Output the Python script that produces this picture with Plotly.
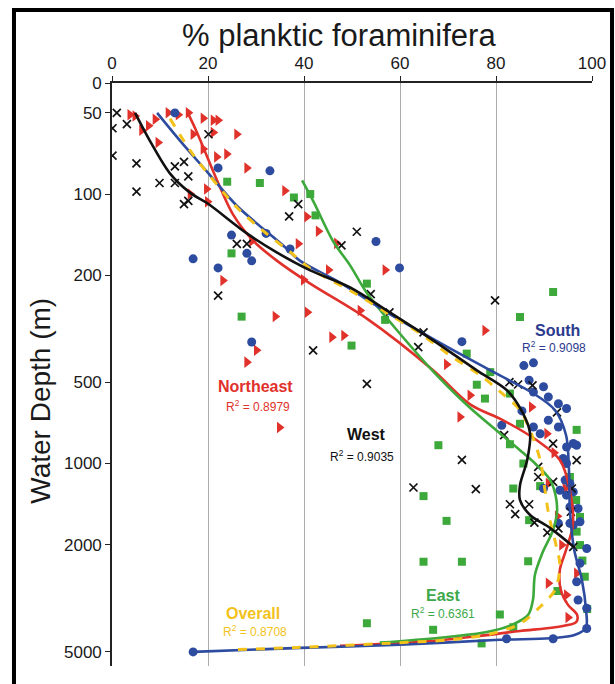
import math
import plotly.graph_objects as go

# ---------------- observations: % planktic foraminifera vs water depth (m) ----------------
ne_pct = [3.75, 4.8, 6.2, 7.6, 9.0, 9.6, 11.7, 13.8, 15.9, 19.0, 21.1, 22.1, 16.9, 21.1, 26.0,
          19.0, 21.8, 23.9, 28.1, 16.3, 19.7, 19.9, 36.0, 40.6, 38.8, 29.1, 23.1, 34.0, 40.7, 30.1,
          28.1, 34.9, 43.0, 46.8, 56.9, 45.1, 39.9, 51.7, 45.8, 48.3, 77.7, 69.7, 74.6, 72.5, 90.6,
          92.1, 90.9, 92.8, 94.4, 93.7, 96.8, 90.9, 94.7, 95.0, 87.4]
ne_depth = [50.8, 51.3, 58, 55.8, 52.8, 64.4, 49.9, 50.8, 49.9, 52.3, 53.2, 53.2, 60, 59.1, 60,
            68.1, 72.8, 71.1, 80.1, 100, 95.8, 106.8, 97.2, 121.4, 153, 149.8, 209.5, 284.7, 274.5, 380,
            420.5, 735.6, 137.5, 152.4, 191.2, 191.2, 208.2, 270.4, 339.6, 334.9, 320.9, 428.6, 558.5, 672, 774.5,
            912, 1186, 1570, 1238, 2007, 2553, 2780, 3076, 3724, 616.6]

west_pct = [1.0, 3.1, 0.1, 0.1, 5.1, 9.9, 13.1, 5.1, 13.1, 15.0, 15.9, 15.0, 15.9, 20.1, 38.8,
            36.9, 26.0, 28.1, 22.1, 51.0, 47.8, 53.9, 57.8, 79.8, 64.9, 63.8, 41.9, 53.1, 82.8, 84.6,
            87.6, 81.7, 92.7, 91.9, 72.9, 62.8, 75.8, 82.9, 84.0, 86.9, 88.8, 88.8, 91.9, 88.0, 90.7,
            93.0, 95.6, 96.8, 95.8, 96.1]
west_depth = [50, 55, 57, 72, 77, 91, 91, 98, 79, 76, 86, 109, 106, 60, 109,
              121, 153, 153, 238, 138, 155, 235, 275, 248, 326, 370, 380, 506, 499, 509,
              513, 785, 646, 843, 970, 1227, 1244, 1416, 1541, 1416, 1029, 1122, 1169, 1656, 1803,
              1741, 1510, 972, 1238, 2037]

south_pct = [13.1, 22.1, 32.9, 24.9, 32.1, 28.1, 29.1, 16.9, 22.1, 37.1, 29.1, 55.0, 59.9, 72.9, 85.8,
             87.8, 86.9, 87.8, 89.9, 90.9, 93.0, 94.7, 85.4, 87.8, 89.2, 90.9, 94.7, 96.8, 93.0, 81.2,
             96.1, 94.0, 94.7, 94.4, 95.4, 93.3, 94.7, 96.1, 95.4, 97.1, 97.5, 96.1, 89.9, 93.0, 95.4,
             98.9, 97.5, 96.8, 97.1, 98.9, 98.9, 91.9, 82.2, 16.9]
south_depth = [50, 80, 82, 142, 140, 166, 177, 174, 188, 160, 354, 150, 188, 353, 433,
               423, 491, 543, 519, 566, 600, 625, 638, 732, 775, 691, 868, 855, 732, 721,
               843, 958, 1000, 1152, 1186, 1256, 1310, 1274, 1449, 1468, 1646, 1692, 1238, 1667, 1667,
               2066, 2344, 2745, 3209, 3444, 4093, 4467, 4467, 5000]

east_pct = [24.0, 30.8, 37.9, 41.3, 42.4, 24.9, 27.0, 53.1, 56.9, 49.9, 73.9, 78.8, 76.0, 77.7, 82.9,
            85.0, 91.9, 96.8, 82.9, 68.0, 85.0, 64.9, 69.7, 64.9, 72.9, 86.7, 53.1, 66.9, 77.0, 80.8,
            85.7, 83.6, 86.9, 89.2, 92.8, 96.7, 96.8, 98.0, 98.5, 99.0, 95.4, 97.5, 97.5, 83.6]
east_depth = [90, 91, 103, 100, 120, 166, 285, 215, 293, 365, 391, 458, 510, 574, 550,
              286, 231, 750, 848, 855, 712, 1321, 1632, 2314, 2314, 2305, 3914, 4140, 4650, 3632,
              1000, 1238, 1622, 1213, 2972, 1366, 1789, 2291, 2630, 3467, 1122, 1578, 2007, 4050]

# ---------------- fitted trend curves ----------------
ne_fit_pct = [15.8, 17.5, 19.0, 21.9, 25.2, 29.4, 34.4, 41.3, 53.1, 66.9, 74.6, 81.5, 88.5, 93.3,
              95.4, 96.0, 94.6, 93.3, 93.5, 95.0, 96.9, 96.7, 92.3, 85.0, 76.7, 64.2, 47.5]
ne_fit_depth = [50, 58, 67, 89, 119, 149, 177, 215, 290, 451, 603, 691, 820, 971,
                1254, 1692, 2093, 2482, 2943, 3345, 3643, 3880, 4050, 4180, 4360, 4590, 4750]

east_fit_pct = [39.6, 41.9, 46.0, 49.6, 53.1, 60.0, 66.9, 74.0, 80.8, 85.0, 88.5, 91.3, 92.5, 92.7,
                91.9, 89.6, 88.1, 87.7, 86.7, 83.3, 78.1, 68.3, 55.8]
east_fit_depth = [89, 106, 149, 184, 233, 330, 455, 608, 772, 892, 1013, 1152, 1337, 1525,
                  1764, 2160, 2590, 3205, 3643, 3967, 4220, 4430, 4620]

south_fit_pct = [9.4, 14.2, 20.0, 26.0, 35.6, 39.2, 47.5, 57.9, 69.0, 80.8, 87.7, 92.3, 94.6, 95.2,
                 95.4, 96.3, 97.9, 98.75, 98.75, 96.5, 91.3, 80.8, 60.0, 39.2, 16.9]
south_fit_depth = [50, 63.5, 83.4, 110.5, 155, 177, 213, 279, 362, 471, 548, 634, 785, 1057,
                   1488, 2093, 2703, 3490, 4060, 4320, 4450, 4508, 4705, 4830, 5000]

overall_fit_pct = [12.1, 16.3, 20.0, 26.0, 31.5, 37.1, 41.3, 49.6, 57.3, 64.2, 70.4, 76.7, 80.8, 85.0,
                   87.5, 89.2, 90.2, 91.0, 92.5, 93.3, 92.3, 89.2, 85.0, 78.8, 70.4, 60.0, 39.2, 24.6]
overall_fit_depth = [52.5, 69, 84, 112, 137, 164, 189, 228, 276, 329, 397, 470, 540, 634,
                     785, 971, 1254, 1552, 2005, 2378, 2943, 3400, 3930, 4290, 4508, 4620, 4810, 4910]

west_fit_pct = [4.8, 7.9, 12.1, 16.3, 19.8, 28.1, 34.4, 41.3, 49.6, 57.9, 66.9, 76.0, 82.3, 85.6,
                87.1, 86.5, 85.0, 85.0, 87.1, 91.3, 96.5]
west_fit_depth = [50, 63.5, 84, 99, 108, 140, 165, 192, 222, 275, 349, 451, 535, 650,
                  772, 971, 1202, 1366, 1552, 1736, 2059]

# ---------------- axes ----------------
x_ticks = [0, 20, 40, 60, 80, 100]
depth_top, depth_bottom = 38.9, 5640
y_tick_vals = [38.9, 50, 100, 200, 500, 1000, 2000, 5000]
y_tick_text = ["0", "50", "100", "200", "500", "1000", "2000", "5000"]

# ---------------- region labels: name, R², colour, label position ----------------
regions = ["Northeast", "West", "South", "East", "Overall"]
r2_values = ["0.8979", "0.9035", "0.9098", "0.6361", "0.8708"]

RED = "#E1312B"
BLUE = "#2D4B9F"
NAVY = "#2C3A8E"
GREEN = "#3CA93A"
YELLOW = "#F2C21A"
BLACK = "#111111"
FONT = "Liberation Sans, Arial, sans-serif"

label_colors = [RED, BLACK, NAVY, "#3DA84A", YELLOW]
r2_colors = [RED, BLACK, NAVY, "#3DA84A", YELLOW]
label_pos = [(29.8, 517), (53.1, 779), (92.9, 321), (69.0, 3077), (29.4, 3610)]
r2_pos = [(30.4, 614), (52.0, 940), (92.0, 371), (69.0, 3590), (29.8, 4170)]

fig = go.Figure()

# sample points
fig.add_trace(go.Scatter(x=east_pct, y=east_depth, mode="markers",
                         marker=dict(symbol="square", size=8, color=GREEN)))
fig.add_trace(go.Scatter(x=ne_pct, y=ne_depth, mode="markers",
                         marker=dict(symbol="triangle-right", size=10, color=RED)))
fig.add_trace(go.Scatter(x=south_pct, y=south_depth, mode="markers",
                         marker=dict(symbol="circle", size=9, color=BLUE)))
fig.add_trace(go.Scatter(x=west_pct, y=west_depth, mode="markers",
                         marker=dict(symbol="x-thin", size=8, color=BLACK,
                                     line=dict(width=1.7, color=BLACK))))

# trend curves
def curve(x, y, color, dash="solid", width=2.6):
    return go.Scatter(x=x, y=y, mode="lines",
                      line=dict(color=color, width=width, dash=dash, shape="spline", smoothing=0.9))

fig.add_trace(curve(ne_fit_pct, ne_fit_depth, RED))
fig.add_trace(curve(east_fit_pct, east_fit_depth, GREEN))
fig.add_trace(curve(south_fit_pct, south_fit_depth, BLUE))
fig.add_trace(curve(overall_fit_pct, overall_fit_depth, YELLOW, dash="dash", width=3))
fig.add_trace(curve(west_fit_pct, west_fit_depth, BLACK))

annotations = []
for name, r2, c1, c2, (lx, ly), (rx, ry) in zip(regions, r2_values, label_colors, r2_colors,
                                                label_pos, r2_pos):
    annotations.append(dict(x=lx, y=math.log10(ly), xref="x", yref="y", text=f"<b>{name}</b>",
                            showarrow=False, font=dict(family=FONT, size=16, color=c1)))
    annotations.append(dict(x=rx, y=math.log10(ry), xref="x", yref="y",
                            text=f"R<sup>2</sup> = {r2}", showarrow=False,
                            font=dict(family=FONT, size=12, color=c2)))

annotations.append(dict(x=-0.148, y=0.455, xref="paper", yref="paper", text="Water Depth (m)",
                        textangle=-90, showarrow=False, xanchor="center", yanchor="middle",
                        font=dict(family=FONT, size=28, color="#1a1a1a")))

fig.update_layout(
    width=615, height=684,
    margin=dict(l=112, r=23, t=83, b=18, autoexpand=False),
    paper_bgcolor="white", plot_bgcolor="white",
    showlegend=False,
    font=dict(family=FONT, color="#1a1a1a"),
    title=dict(text="% planktic foraminifera", x=0.551, xanchor="center",
               y=1 - 35 / 684, yref="container", yanchor="middle",
               font=dict(family=FONT, size=31, color="#1a1a1a")),
    xaxis=dict(side="top", range=[0, 100], tickvals=x_ticks, ticks="outside", ticklen=5,
               tickcolor="#222", showline=True, linecolor="#222", linewidth=1.6,
               showgrid=True, gridcolor="#ABABAB", gridwidth=1.4, zeroline=False,
               automargin=False, tickfont=dict(size=17, color="#1a1a1a")),
    yaxis=dict(type="log", range=[math.log10(depth_bottom), math.log10(depth_top) - 0.002],
               tickvals=y_tick_vals, ticktext=y_tick_text, ticks="outside", ticklen=5,
               tickcolor="#222", showline=True, linecolor="#222", linewidth=1.6,
               showgrid=False, zeroline=False, automargin=False,
               tickfont=dict(size=17, color="#1a1a1a")),
    annotations=annotations,
    shapes=[dict(type="rect", xref="paper", yref="paper", x0=-0.2042, x1=1.0417,
                 y0=-0.06, y1=1.1252, line=dict(color="black", width=4),
                 fillcolor="rgba(0,0,0,0)", layer="above")],
)

fig.write_html("out.html")
